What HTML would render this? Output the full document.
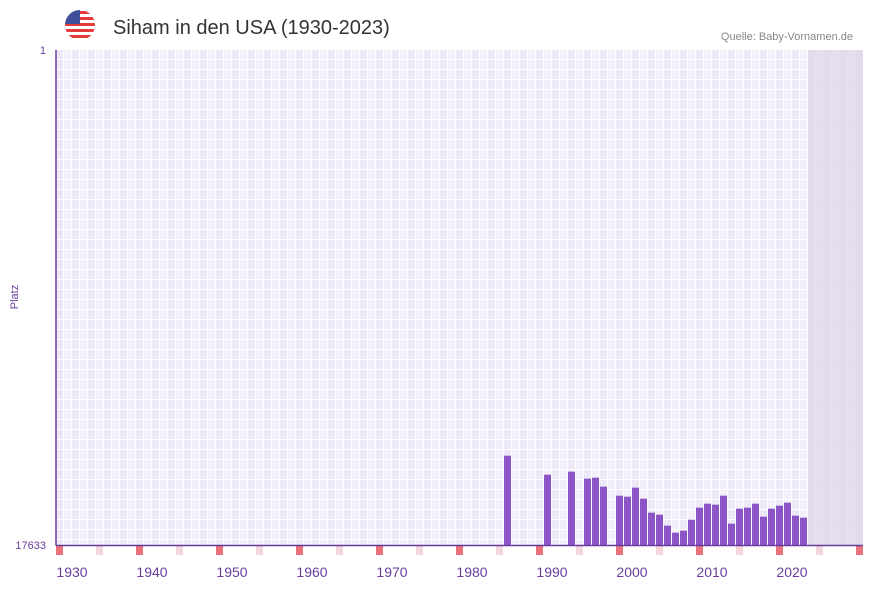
<!DOCTYPE html>
<html><head><meta charset="utf-8"><style>
body{margin:0;background:#fff;font-family:"Liberation Sans",sans-serif}
svg text{font-family:"Liberation Sans",sans-serif}
</style></head><body>
<svg width="873" height="587" viewBox="0 0 873 587">
<defs>
<pattern id="grid" x="56" y="50" width="16" height="10" patternUnits="userSpaceOnUse">
<rect width="8" height="10" fill="#ede8f8"/><rect x="8" width="8" height="10" fill="#f3effb"/>
<rect x="7" width="1" height="10" fill="#fff"/><rect x="15" width="1" height="10" fill="#fff"/>
<rect y="9" width="16" height="1" fill="#fff"/>
</pattern>
<clipPath id="fc"><circle cx="80" cy="25" r="15"/></clipPath>
</defs>
<rect x="56" y="50" width="807" height="495" fill="url(#grid)"/>
<rect x="808" y="50" width="55" height="495" fill="#ddd7e8" opacity="0.75"/>
<g clip-path="url(#fc)">
<rect x="65" y="10" width="30" height="30" fill="#fff"/>
<rect x="65" y="11" width="30" height="3" fill="#e63b3b"/><rect x="65" y="17" width="30" height="3" fill="#e63b3b"/>
<rect x="65" y="23" width="30" height="3" fill="#e63b3b"/><rect x="65" y="29" width="30" height="3" fill="#e63b3b"/>
<rect x="65" y="35" width="30" height="3" fill="#e63b3b"/>
<rect x="65" y="10" width="15" height="14" fill="#3d4f9a"/>
</g>
<text x="113" y="34" font-size="20" fill="#333">Siham in den USA (1930-2023)</text>
<text x="853" y="40" font-size="11" fill="#888" text-anchor="end">Quelle: Baby-Vornamen.de</text>
<text x="46" y="54" font-size="11" fill="#6a3d9a" text-anchor="end">1</text>
<text x="46" y="549" font-size="11" fill="#6a3d9a" text-anchor="end">17633</text>
<text x="18" y="297" font-size="11" fill="#6a3d9a" text-anchor="middle" transform="rotate(-90 18 297)">Platz</text>
<g id="marks"></g><g id="bars"></g><g id="xlabels"></g>
<line x1="56" y1="50" x2="56" y2="545.5" stroke="#6a3d9a" stroke-width="1.5"/>
<line x1="56" y1="545.5" x2="863" y2="545.5" stroke="#6a3d9a" stroke-width="1.5"/>
</svg>
<script>
const years = [1986,1991,1994,1996,1997,1998,2000,2001,2002,2003,2004,2005,2006,2007,2008,2009,2010,2011,2012,2013,2014,2015,2016,2017,2018,2019,2020,2021,2022,2023];
const ranks = [14451,15128,15021,15270,15235,15555,15876,15911,15591,15983,16481,16553,16944,17194,17122,16731,16303,16161,16196,15876,16873,16339,16303,16161,16624,16339,16232,16125,16589,16660];
const tickYears = [1930,1940,1950,1960,1970,1980,1990,2000,2010,2020];
const NS='http://www.w3.org/2000/svg';
const x0=56, cw=8, y1=50, y0=545, rMin=1, rMax=17633;
function xs(yr){return x0+(yr-1930)*cw;}
function ys(r){return y1+(r-rMin)/(rMax-rMin)*(y0-y1);}
const bars=document.getElementById('bars');
years.forEach((yr,i)=>{
 const r=document.createElementNS(NS,'rect');
 r.setAttribute('x',xs(yr)); r.setAttribute('y',ys(ranks[i]));
 r.setAttribute('width',7); r.setAttribute('height',y0-ys(ranks[i]));
 r.setAttribute('fill','#8b55c8');
 
 
 bars.appendChild(r);
});
const marks=document.getElementById('marks');
for(let c=0;c<=100;c+=5){
 const m=document.createElementNS(NS,'rect');
 m.setAttribute('x',x0+c*cw); m.setAttribute('y',546);
 m.setAttribute('width',7); m.setAttribute('height',9);
 m.setAttribute('fill',c%10===0?'#e8737a':'#f4d6de');
 
 
 marks.appendChild(m);
}
const xl=document.getElementById('xlabels');
tickYears.forEach(yr=>{
 const t=document.createElementNS(NS,'text');
 t.setAttribute('x',xs(yr)+16); t.setAttribute('y',577);
 t.setAttribute('font-size','14'); t.setAttribute('fill','#6a3d9a');
 t.setAttribute('text-anchor','middle');
 
 
 t.textContent=yr; xl.appendChild(t);
});
</script>
</body></html>
